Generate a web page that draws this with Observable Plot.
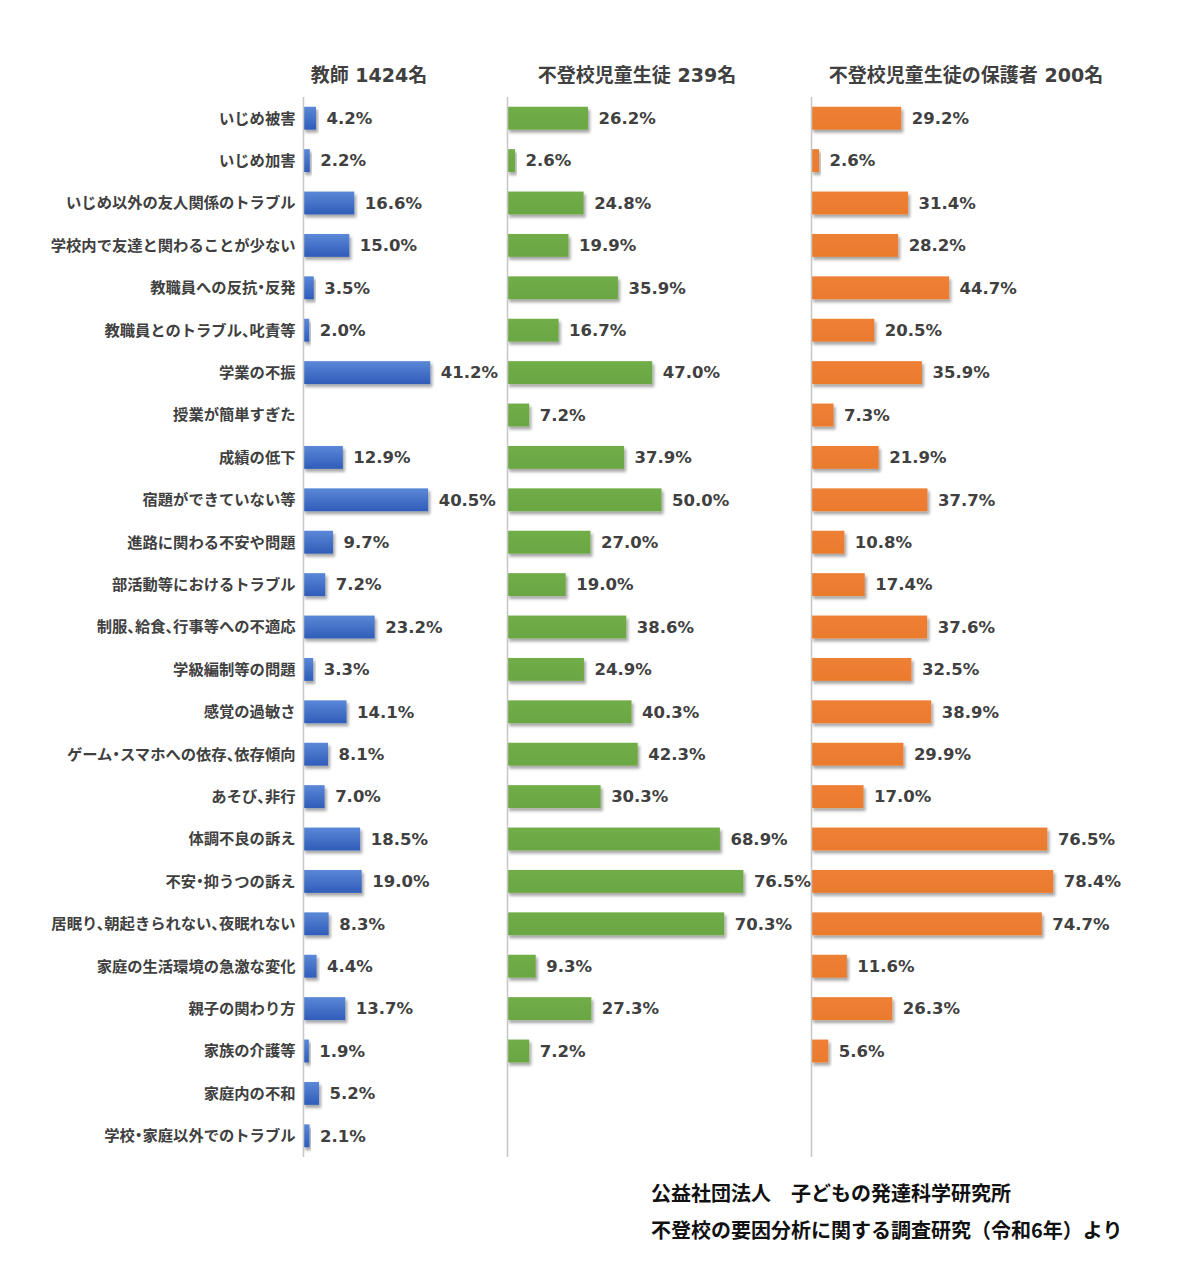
<!DOCTYPE html>
<html>
<head>
<meta charset="utf-8">
<script src="https://cdn.jsdelivr.net/npm/d3@7"></script>
<script src="https://cdn.jsdelivr.net/npm/@observablehq/plot@0.6"></script>
<style>
  html, body { margin: 0; padding: 0; background: #fff; }
  #wrap { position: relative; width: 1182px; height: 1276px; background: #fff; overflow: hidden; }
  #row { position: absolute; left: 0; top: 0; display: flex; flex-direction: row; }
  .ttl { position: absolute; top: 64px; transform: translateX(-50%); white-space: nowrap;
         font-family: "DejaVu Sans", "Noto Sans CJK JP", sans-serif; font-weight: bold; font-size: 19px;
         color: #404040; line-height: 22px; }
  .cap { position: absolute; left: 651px; white-space: nowrap; font-family: "Noto Sans CJK JP", sans-serif;
         font-weight: bold; font-size: 20px; color: #111; line-height: 24px; }
</style>
</head>
<body>
<div id="wrap">
  <div id="row"></div>
</div>
<script>
const categories = [
  "いじめ被害",
  "いじめ加害",
  "いじめ以外の友人関係のトラブル",
  "学校内で友達と関わることが少ない",
  "教職員への反抗・反発",
  "教職員とのトラブル、叱責等",
  "学業の不振",
  "授業が簡単すぎた",
  "成績の低下",
  "宿題ができていない等",
  "進路に関わる不安や問題",
  "部活動等におけるトラブル",
  "制服、給食、行事等への不適応",
  "学級編制等の問題",
  "感覚の過敏さ",
  "ゲーム・スマホへの依存、依存傾向",
  "あそび、非行",
  "体調不良の訴え",
  "不安・抑うつの訴え",
  "居眠り、朝起きられない、夜眠れない",
  "家庭の生活環境の急激な変化",
  "親子の関わり方",
  "家族の介護等",
  "家庭内の不和",
  "学校・家庭以外でのトラブル"
];
const teachers = [4.2, 2.2, 16.6, 15.0, 3.5, 2.0, 41.2, null, 12.9, 40.5, 9.7, 7.2, 23.2, 3.3, 14.1, 8.1, 7.0, 18.5, 19.0, 8.3, 4.4, 13.7, 1.9, 5.2, 2.1];
const students = [26.2, 2.6, 24.8, 19.9, 35.9, 16.7, 47.0, 7.2, 37.9, 50.0, 27.0, 19.0, 38.6, 24.9, 40.3, 42.3, 30.3, 68.9, 76.5, 70.3, 9.3, 27.3, 7.2, null, null];
const parents = [29.2, 2.6, 31.4, 28.2, 44.7, 20.5, 35.9, 7.3, 21.9, 37.7, 10.8, 17.4, 37.6, 32.5, 38.9, 29.9, 17.0, 76.5, 78.4, 74.7, 11.6, 26.3, 5.6, null, null];
const panelTitles = ["教師 1424名", "不登校児童生徒 239名", "不登校児童生徒の保護者 200名"];
const captionLines = ["公益社団法人　子どもの発達科学研究所", "不登校の要因分析に関する調査研究（令和6年）より"];

const PX_PER_PCT = 3.09;
const panels = [
  {title: panelTitles[0], values: teachers, width: 507, marginLeft: 303, grad: ["#5b88d8", "#2f5cb8"], labels: true, titleX: 369},
  {title: panelTitles[1], values: students, width: 304, marginLeft: 0, grad: ["#70ad47", "#6aa743"], labels: false, titleX: 637},
  {title: panelTitles[2], values: parents, width: 371, marginLeft: 0, grad: ["#ee8035", "#ea7a2e"], labels: false, titleX: 966}
];

const row = document.getElementById("row");
const wrap = document.getElementById("wrap");

panels.forEach((p, i) => {
  const data = categories.map((c, j) => ({cat: c, v: p.values[j]}));
  const valid = data.filter(d => d.v != null);
  const gid = "grad" + i, fid = "shadow" + i;
  const marks = [
    Plot.barX(valid, {x: "v", y: "cat", fill: `url(#${gid})`}),
    Plot.ruleX([0], {stroke: "#c6c6c6", strokeWidth: 1.5}),
    Plot.text(valid, {x: "v", y: "cat", text: d => d.v.toFixed(1) + "%", textAnchor: "start", dx: 10,
      fill: "#404040", fontWeight: "bold", fontSize: 16.5, fontFamily: "DejaVu Sans, Noto Sans CJK JP, sans-serif"})
  ];
  if (p.labels) {
    marks.push(Plot.text(categories, {y: d => d, text: d => d, frameAnchor: "left", textAnchor: "end", dx: -8,
      fill: "#404040", fontWeight: "bold", fontSize: 15.3, fontFamily: "Noto Sans CJK JP, sans-serif"}));
  }
  const chart = Plot.plot({
    width: p.width,
    height: 1157,
    marginLeft: p.marginLeft,
    marginRight: 0,
    marginTop: 97,
    marginBottom: 0,
    style: {background: "transparent", overflow: "visible"},
    x: {domain: [0, (p.width - p.marginLeft) / PX_PER_PCT], axis: null},
    y: {domain: categories, axis: null, paddingInner: 0.46, paddingOuter: 0.23, round: false},
    marks
  });
  const svg = d3.select(chart);
  const defs = svg.insert("defs", ":first-child");
  const lg = defs.append("linearGradient").attr("id", gid).attr("x1", 0).attr("y1", 0).attr("x2", 0).attr("y2", 1);
  lg.append("stop").attr("offset", "0%").attr("stop-color", p.grad[0]);
  lg.append("stop").attr("offset", "100%").attr("stop-color", p.grad[1]);
  const f = defs.append("filter").attr("id", fid).attr("x", "-10%").attr("y", "-30%").attr("width", "130%").attr("height", "190%");
  f.append("feDropShadow").attr("dx", 2).attr("dy", 3).attr("stdDeviation", 1.8)
    .attr("flood-color", "#000").attr("flood-opacity", 0.35);
  svg.selectAll('g[aria-label="bar"] rect').attr("filter", `url(#${fid})`);
  svg.selectAll("text").filter(function() { return !this.textContent.endsWith("%"); })
    .style("font-feature-settings", '"halt" 1');
  row.appendChild(chart);

  const t = document.createElement("div");
  t.className = "ttl";
  t.style.left = p.titleX + "px";
  t.textContent = p.title;
  wrap.appendChild(t);
});

captionLines.forEach((line, i) => {
  const c = document.createElement("div");
  c.className = "cap";
  c.style.top = (1181 + i * 37) + "px";
  c.textContent = line;
  wrap.appendChild(c);
});
</script>
</body>
</html>
